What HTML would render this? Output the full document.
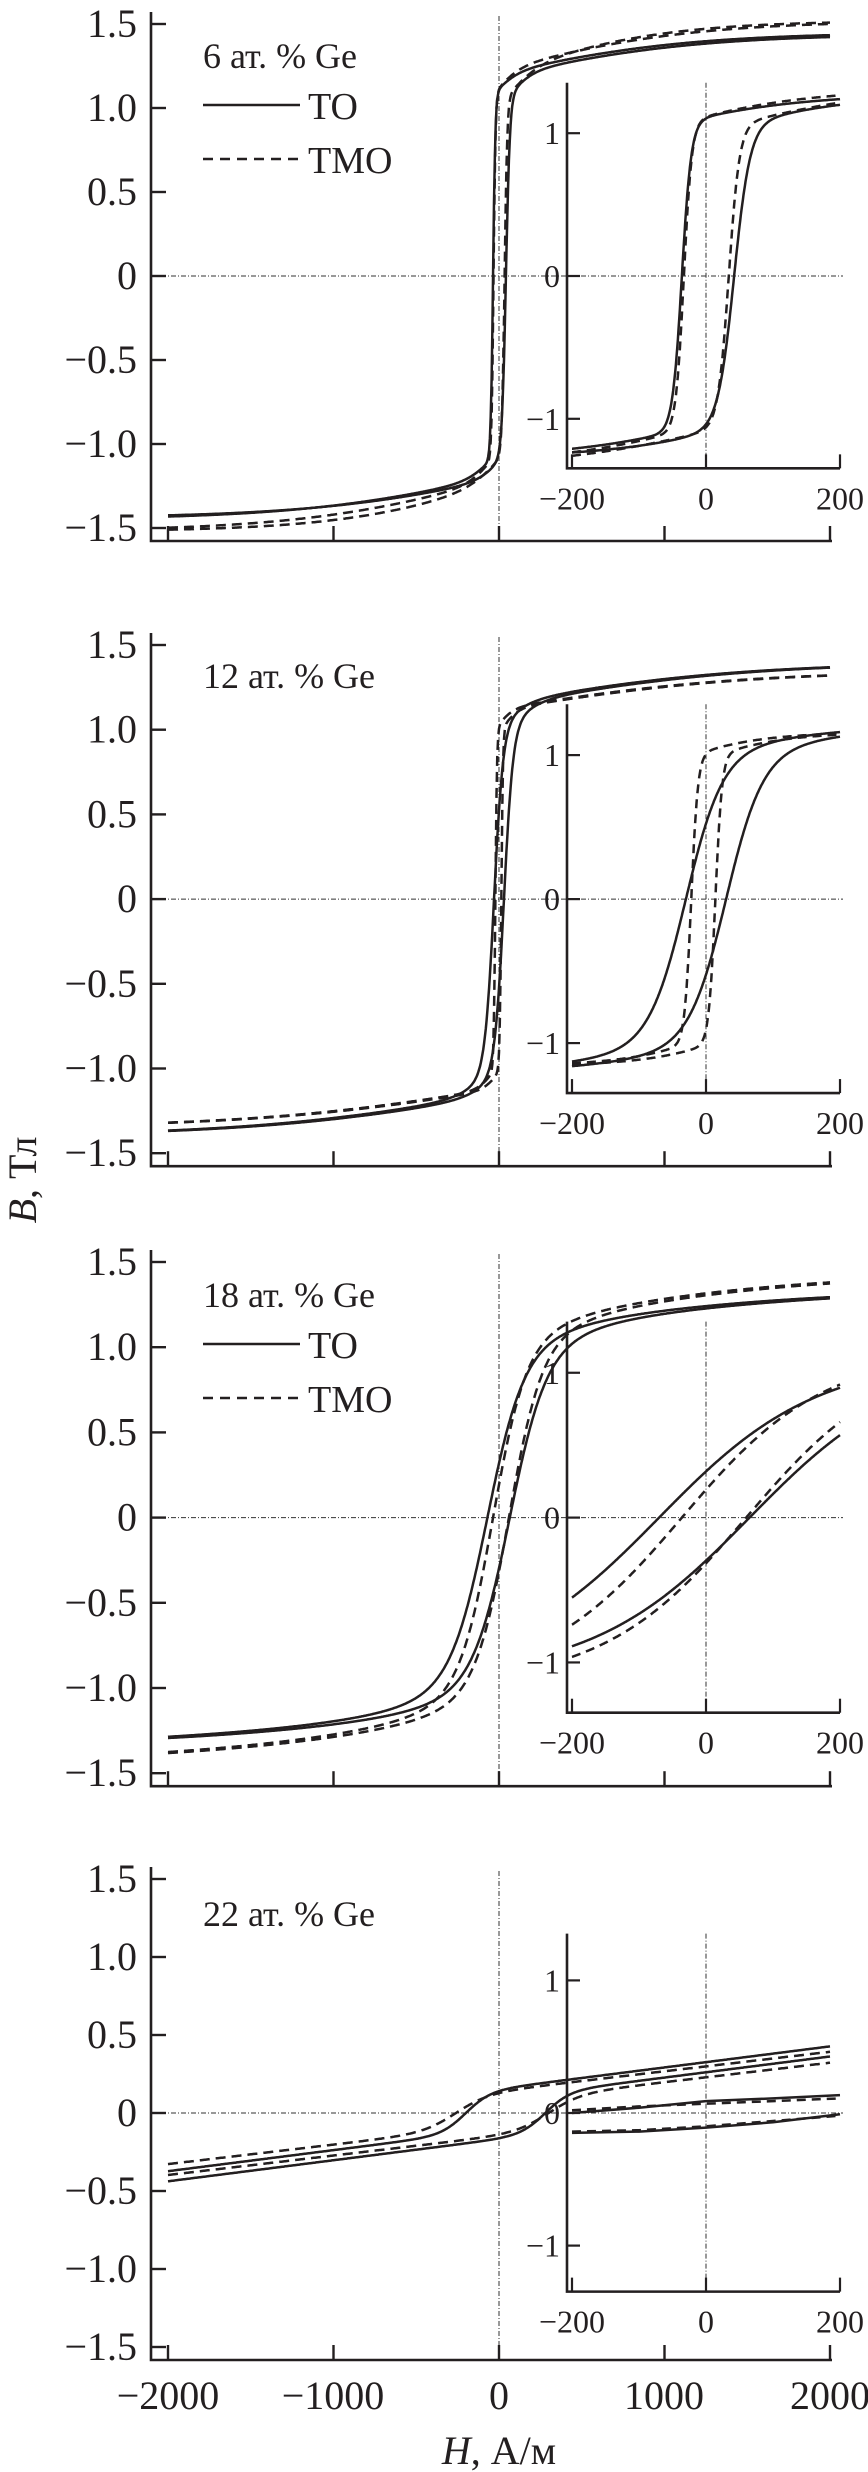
<!DOCTYPE html>
<html><head><meta charset="utf-8">
<style>
html,body{margin:0;padding:0;background:#fff;}
svg{display:block;}
text{font-family:"Liberation Serif","DejaVu Serif",serif;fill:#231f20;}
</style></head>
<body>
<svg id="s" width="868" height="2472" viewBox="0 0 868 2472" xmlns="http://www.w3.org/2000/svg">
<g id="g"></g>
<text x="499" y="2409" font-size="40" text-anchor="middle">0</text>
<text x="168" y="2409" font-size="40" text-anchor="middle">−2000</text>
<text x="333" y="2409" font-size="40" text-anchor="middle">−1000</text>
<text x="664" y="2409" font-size="40" text-anchor="middle">1000</text>
<text x="830" y="2409" font-size="40" text-anchor="middle">2000</text>
<text x="499" y="2464" font-size="40" text-anchor="middle"><tspan font-style="italic">H</tspan>, А/м</text>
<text transform="translate(36,1180) rotate(-90)" font-size="40" text-anchor="middle"><tspan font-style="italic">B</tspan>, Тл</text>
</svg>
<script>
(function(){
var g=document.getElementById('g');
var out='';
function th(x){return Math.tanh(x);}
var panels=[
 {off:0,top:24,d:84,title:'6 ат. % Ge',legend:true,
  to:{f:function(h){return 1.08*th(h/14)+0.12*th(h/150)+0.25*th(h/1200);},up:36,dn:42,fdn:function(h){return 1.05*th(h/24)+0.15*th(h/150)+0.24*th(h/1200);}},
  tmo:{f:function(h){return 1.08*th(h/12)+0.14*th(h/150)+0.3*th(h/1200);},up:33,dn:34,fdn:function(h){return 1.05*th(h/16)+0.17*th(h/200)+0.3*th(h/1000);}}},
 {off:620,top:645,d:84.7,title:'12 ат. % Ge',legend:false,
  to:{f:function(h){return 1.0*th(h/55)+0.15*th(h/200)+0.25*th(h/1500);},up:30,dn:30},
  tmo:{f:function(h){return 1.0*th(h/10)+0.12*th(h/100)+0.23*th(h/1500);},up:22,dn:14}},
 {off:1239,top:1262,d:85.2,title:'18 ат. % Ge',legend:true,
  to:{f:function(h){return 0.95*th(h/220)+0.15*th(h/600)+0.25*th(h/2000);},up:70,dn:65},
  tmo:{f:function(h){return 1.0*th(h/200)+0.15*th(h/600)+0.3*th(h/2000);},up:36,dn:60}},
 {off:1858,top:1879,d:78,title:'22 ат. % Ge',legend:false,
  to:{f:function(h){return 0.13*th(h/150)+0.000135*h;},up:200,dn:280},
  tmo:{f:function(h){return 0.11*th(h/200)+0.000125*h;},up:260,dn:300}}
];
function X(H){return 499+H*0.1655;}
function XI(H){return 706+H*0.67;}
function path(pts){var s='';for(var i=0;i<pts.length;i++){s+=(i?'L':'M')+pts[i][0].toFixed(1)+' '+pts[i][1].toFixed(1);}return s;}
var SW='2.5';
panels.forEach(function(p,pi){
  var zero=p.top+3*p.d, bot=p.top+6*p.d, axis=bot+13;
  function Y(B){return zero-B/0.5*p.d;}
  var u=1.7*p.d, itop=zero-2.3*p.d, ibot=zero+2.29*p.d;
  function YI(B){return zero-B*u;}
  out+='<line x1="151" y1="'+zero+'" x2="843" y2="'+zero+'" stroke="#333" stroke-width="1" stroke-dasharray="5,2,1,2"/>';
  out+='<line x1="499" y1="'+(p.top-8)+'" x2="499" y2="'+axis+'" stroke="#333" stroke-width="1" stroke-dasharray="5,2,1,2"/>';
  out+='<path d="M151 '+(p.top-12)+'L151 '+axis+'L832 '+axis+'" fill="none" stroke="#231f20" stroke-width="2.6"/>';
  var labs=['1.5','1.0','0.5','0','−0.5','−1.0','−1.5'];
  for(var i=0;i<7;i++){var y=p.top+i*p.d;
    out+='<line x1="151" y1="'+y+'" x2="166" y2="'+y+'" stroke="#231f20" stroke-width="2.4"/>';
    out+='<text x="137" y="'+(y+13)+'" font-size="40" text-anchor="end">'+labs[i]+'</text>';}
  [-2000,-1000,0,1000,2000].forEach(function(H){var x=X(H);
    out+='<line x1="'+x+'" y1="'+axis+'" x2="'+x+'" y2="'+(axis-15)+'" stroke="#231f20" stroke-width="2.4"/>';});
  out+='<text x="203" y="'+(p.off+68)+'" font-size="36">'+p.title+'</text>';
  if(p.legend){
    out+='<line x1="203" y1="'+(p.off+105)+'" x2="300" y2="'+(p.off+105)+'" stroke="#231f20" stroke-width="2.4"/>';
    out+='<text x="308" y="'+(p.off+119)+'" font-size="38">TO</text>';
    out+='<line x1="203" y1="'+(p.off+159)+'" x2="300" y2="'+(p.off+159)+'" stroke="#231f20" stroke-width="2.4" stroke-dasharray="10,7"/>';
    out+='<text x="308" y="'+(p.off+173)+'" font-size="38">TMO</text>';
  }
  [['to',''],['tmo','stroke-dasharray="10,6"']].forEach(function(s){
    var c=p[s[0]], fd=c.fdn||c.f;
    var a=[],b=[];
    for(var H=-2000;H<=2000;H+=5){
      a.push([X(H),Y(c.f(H+c.up))]);
      b.push([X(H),Y(fd(H-c.dn))]);}
    out+='<path d="'+path(a)+'" fill="none" stroke="#231f20" stroke-width="'+SW+'" '+s[1]+'/>';
    out+='<path d="'+path(b)+'" fill="none" stroke="#231f20" stroke-width="'+SW+'" '+s[1]+'/>';
  });
  out+='<line x1="706" y1="'+itop+'" x2="706" y2="'+ibot+'" stroke="#333" stroke-width="1" stroke-dasharray="5,2,1,2"/>';
  out+='<path d="M567 '+itop+'L567 '+ibot+'L840 '+ibot+'" fill="none" stroke="#231f20" stroke-width="2.6"/>';
  [[1,'1'],[0,'0'],[-1,'−1']].forEach(function(q){var y=YI(q[0]);
    out+='<line x1="567" y1="'+y+'" x2="580" y2="'+y+'" stroke="#231f20" stroke-width="2.2"/>';
    out+='<text x="560" y="'+(y+11)+'" font-size="32" text-anchor="end">'+q[1]+'</text>';});
  [[-200,'−200'],[0,'0'],[200,'200']].forEach(function(q){var x=XI(q[0]);
    out+='<line x1="'+x+'" y1="'+ibot+'" x2="'+x+'" y2="'+(ibot-14)+'" stroke="#231f20" stroke-width="2.2"/>';
    out+='<text x="'+x+'" y="'+(ibot+41)+'" font-size="32" text-anchor="middle">'+q[1]+'</text>';});
  if(pi<3){
    [['to',''],['tmo','stroke-dasharray="9,6"']].forEach(function(s){
      var c=p[s[0]], fd=c.fdn||c.f;
      var a=[],b=[];
      for(var H=-200;H<=200;H+=1){
        a.push([XI(H),YI(c.f(H+c.up))]);
        b.push([XI(H),YI(fd(H-c.dn))]);}
      out+='<path d="'+path(a)+'" fill="none" stroke="#231f20" stroke-width="'+SW+'" '+s[1]+'/>';
      out+='<path d="'+path(b)+'" fill="none" stroke="#231f20" stroke-width="'+SW+'" '+s[1]+'/>';
    });
  } else {
    function ln(pts,d){return '<path d="'+path(pts.map(function(q){return [XI(q[0]),YI(q[1])];}))+'" fill="none" stroke="#231f20" stroke-width="'+SW+'" '+d+'/>';}
    out+=ln([[-200,0],[-100,0.04],[0,0.09],[100,0.11],[200,0.135]],'');
    out+=ln([[-200,0.02],[-100,0.05],[0,0.07],[100,0.09],[200,0.11]],'stroke-dasharray="9,6"');
    out+=ln([[-200,-0.15],[-100,-0.14],[0,-0.11],[100,-0.07],[200,-0.01]],'');
    out+=ln([[-200,-0.14],[-100,-0.13],[0,-0.1],[100,-0.06],[200,-0.02]],'stroke-dasharray="9,6"');
  }
});
g.innerHTML=out;
})();
</script>
</body></html>
